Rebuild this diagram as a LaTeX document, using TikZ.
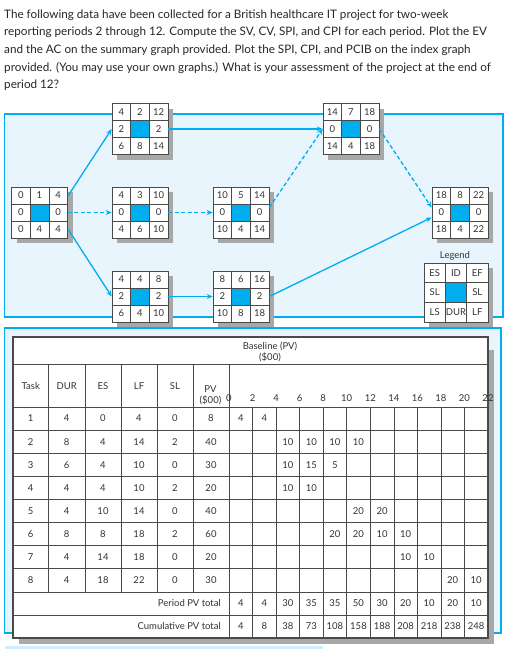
\documentclass[tikz,border=0pt]{standalone}
\usepackage{fontspec}
\setmainfont{Lato}
\usetikzlibrary{arrows.meta,calc,shadows}
\definecolor{pmblue}{HTML}{00AEEF}
\definecolor{pmlight}{HTML}{E8F5FC}
\definecolor{gridc}{HTML}{4A4A4A}
\definecolor{shadowc}{HTML}{A8A8A8}
\definecolor{txt}{HTML}{333333}
\definecolor{bartint}{HTML}{CDEEFA}
\tikzset{
  x=1pt, y=-1pt,
  every node/.style={text=txt, font=\fontsize{9.5}{11}\selectfont, inner sep=0pt},
  panel/.style={draw=pmblue, line width=1.4pt, fill=pmlight},
  netbox/.style={draw=gridc, line width=0.6pt, fill=white, minimum width=56pt, minimum height=51pt,
     drop shadow={shadow xshift=5pt, shadow yshift=-5pt, fill=shadowc, opacity=1}},
  legbox/.style={netbox, minimum width=64pt, minimum height=59pt},
  link/.style={draw=pmblue, line width=1.3pt, -{Stealth[length=6pt,width=5pt]}},
  dlink/.style={link, dash pattern=on 4pt off 2.5pt},
  cellline/.style={draw=gridc, line width=0.6pt},
  tabline/.style={draw=gridc, line width=0.6pt},
  tabframe/.style={draw=gridc, line width=1.2pt},
  para/.style={anchor=base west, text=black!85, font=\fontsize{11.7}{13}\selectfont},
}
\def\cwd{18.667}
\def\cht{17}
\newcommand\boxcells[9]{%
  \fill[pmblue] ($(#1)+(-0.5*\cwd,-0.5*\cht)$) rectangle ($(#1)+(0.5*\cwd,0.5*\cht)$);
  \draw[cellline] ($(#1)+(-0.5*\cwd,-1.5*\cht)$) -- ($(#1)+(-0.5*\cwd,1.5*\cht)$)
                  ($(#1)+(0.5*\cwd,-1.5*\cht)$) -- ($(#1)+(0.5*\cwd,1.5*\cht)$)
                  ($(#1)+(-1.5*\cwd,-0.5*\cht)$) -- ($(#1)+(1.5*\cwd,-0.5*\cht)$)
                  ($(#1)+(-1.5*\cwd,0.5*\cht)$) -- ($(#1)+(1.5*\cwd,0.5*\cht)$);
  \node (#1-a) at ($(#1)+(-\cwd,-\cht)$) {#2};
  \node (#1-b) at ($(#1)+(0,-\cht)$) {#3};
  \node (#1-c) at ($(#1)+(\cwd,-\cht)$) {#4};
  \node (#1-d) at ($(#1)+(-\cwd,0)$) {#5};
  \node (#1-e) at ($(#1)+(\cwd,0)$) {#6};
  \node (#1-f) at ($(#1)+(-\cwd,\cht)$) {#7};
  \node (#1-g) at ($(#1)+(0,\cht)$) {#8};
  \node (#1-h) at ($(#1)+(\cwd,\cht)$) {#9};
}
\begin{document}
\begin{tikzpicture}
\useasboundingbox (0,0) rectangle (510,653);
% question text
\node[para] (q1) at (4,18) {The following data have been collected for a British healthcare IT project for two-week};
\node[para] (q2) at (4,35.7) {reporting periods 2 through 12. Compute the SV, CV, SPI, and CPI for each period. Plot the EV};
\node[para] (q3) at (4,53.4) {and the AC on the summary graph provided. Plot the SPI, CPI, and PCIB on the index graph};
\node[para] (q4) at (4,71.1) {provided. (You may use your own graphs.) What is your assessment of the project at the end of};
\node[para] (q5) at (4,88.8) {period 12?};

% network panel
\path[panel] (4.5,114) rectangle (503,317);

\node[netbox] (n1) at (39.5,212.5) {};
\node[netbox] (n2) at (140,129) {};
\node[netbox] (n3) at (140,212.5) {};
\node[netbox] (n4) at (140,296.5) {};
\node[netbox] (n5) at (241,212.5) {};
\node[netbox] (n6) at (241,296.5) {};
\node[netbox] (n7) at (351,129) {};
\node[netbox] (n8) at (460,212.5) {};
\node[legbox] (lg) at (456,292.5) {};

\draw[link] (n1.30) -- (n2.west);
\draw[link] (n1.-30) -- (n4.west);
\draw[dlink] (n1.east) -- (n3.west);
\draw[dlink] (n3.east) -- (n5.west);
\draw[link] (n2.east) -- (n7.west);
\draw[dlink] (n5.10) -- (n7.west);
\draw[dlink] (n7.east) -- (n8.170);
\draw[link] (n4.east) -- (n6.west);
\draw[link] (n6.east) -- (n8.190);

\boxcells{n1}{0}{1}{4}{0}{0}{0}{4}{4}
\boxcells{n2}{4}{2}{12}{2}{2}{6}{8}{14}
\boxcells{n3}{4}{3}{10}{0}{0}{4}{6}{10}
\boxcells{n4}{4}{4}{8}{2}{2}{6}{4}{10}
\boxcells{n5}{10}{5}{14}{0}{0}{10}{4}{14}
\boxcells{n6}{8}{6}{16}{2}{2}{10}{8}{18}
\boxcells{n7}{14}{7}{18}{0}{0}{14}{4}{18}
\boxcells{n8}{18}{8}{22}{0}{0}{18}{4}{22}
\def\cwd{21.333}\def\cht{19.667}
\boxcells{lg}{ES}{ID}{EF}{SL}{SL}{LS}{DUR}{LF}
\node (lgtitle) at (455,256) {Legend};

% table panel
\path[panel] (4.5,328) rectangle (501,633);
\fill[shadowc] (19,350) rectangle (494,644);
\fill[white] (13,337) rectangle (488,638);
\draw[tabline] (13,364) -- (488,364);
\foreach \k in {0,...,9} \draw[tabline] (13,407+23.1*\k) -- (488,407+23.1*\k);
\foreach \xx in {48.5,85,121,157,193} \draw[tabline] (\xx,364) -- (\xx,591.8);
\draw[tabline] (229,364) -- (229,638);
\foreach \k in {1,...,10} \draw[tabline] (229+23.545*\k,407) -- (229+23.545*\k,638);
\draw[tabframe] (13,337) rectangle (488,638);

\node[align=center] (base) at (270,352.5) {Baseline (PV)\\(\$00)};
\node (hTask) at (30.75,386) {Task};
\node (hDUR) at (66.75,386) {DUR};
\node (hES) at (103,386) {ES};
\node (hLF) at (139,386) {LF};
\node (hSL) at (175,386) {SL};
\node[align=center] (hPV) at (210.5,395.5) {PV\\(\$00)};
\foreach \lab in {0,2,...,22} \node (ax\lab) at (229+11.7725*\lab,398) {\lab};

\foreach \r/\dur/\es/\lf/\sl/\pv in {1/4/0/4/0/8, 2/8/4/14/2/40, 3/6/4/10/0/30, 4/4/4/10/2/20,
    5/4/10/14/0/40, 6/8/8/18/2/60, 7/4/14/18/0/20, 8/4/18/22/0/30}{
  \node (t\r-1) at (30.75,407+23.1*\r-11.55) {\r};
  \node (t\r-2) at (66.75,407+23.1*\r-11.55) {\dur};
  \node (t\r-3) at (103,407+23.1*\r-11.55) {\es};
  \node (t\r-4) at (139,407+23.1*\r-11.55) {\lf};
  \node (t\r-5) at (175,407+23.1*\r-11.55) {\sl};
  \node (t\r-6) at (211,407+23.1*\r-11.55) {\pv};
}
\foreach \r/\i/\v in {1/0/4,1/1/4, 2/2/10,2/3/10,2/4/10,2/5/10, 3/2/10,3/3/15,3/4/5,
    4/2/10,4/3/10, 5/5/20,5/6/20, 6/4/20,6/5/20,6/6/10,6/7/10, 7/7/10,7/8/10, 8/9/20,8/10/10}
  \node (p\r-\i) at (229+23.545*\i+11.77,407+23.1*\r-11.55) {\v};

\node[anchor=east] (ptot) at (221,603.3) {Period PV total};
\node[anchor=east] (ctot) at (221,626.4) {Cumulative PV total};
\foreach \v [count=\i from 0] in {4,4,30,35,35,50,30,20,10,20,10}
  \node (pp\i) at (229+23.545*\i+11.77,603.3) {\v};
\foreach \v [count=\i from 0] in {4,8,38,73,108,158,188,208,218,238,248}
  \node (cc\i) at (229+23.545*\i+11.77,626.4) {\v};

\fill[bartint] (5,646) rectangle (323,648.5);
\end{tikzpicture}
\end{document}
